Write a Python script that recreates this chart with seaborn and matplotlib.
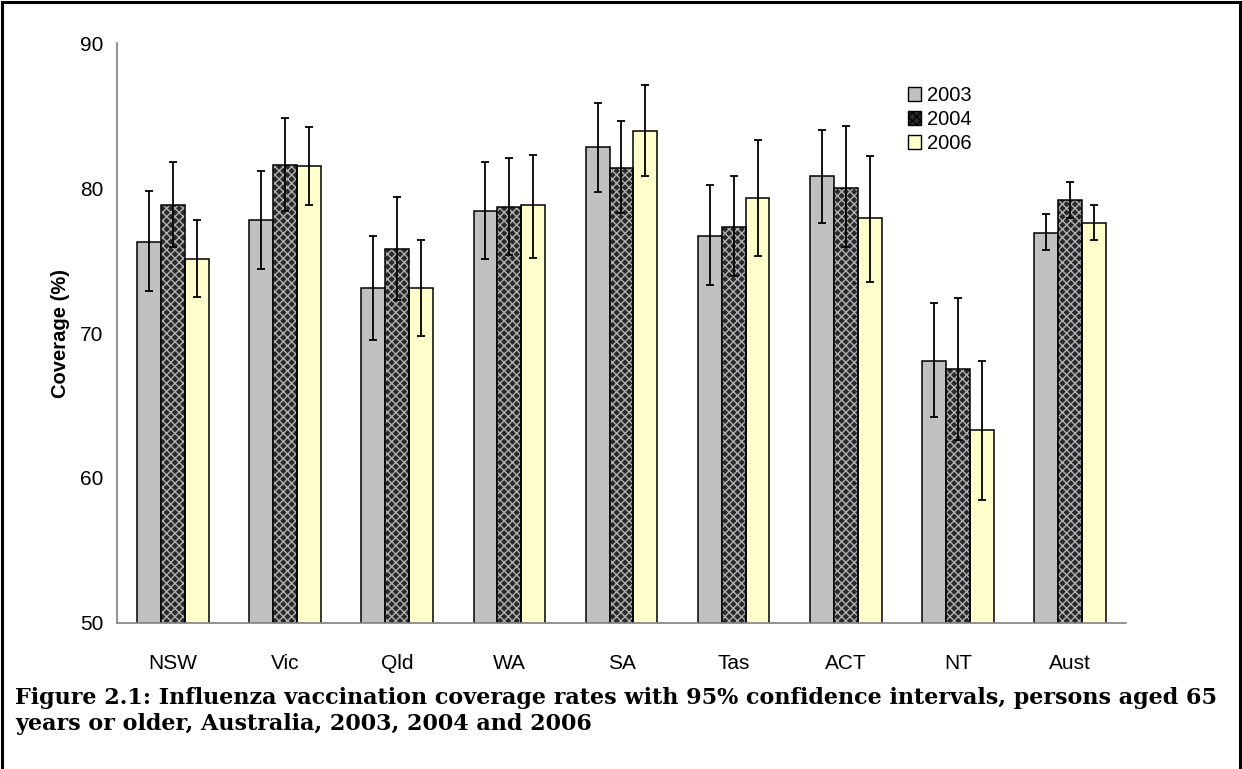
import numpy as np
import pandas as pd
import matplotlib
matplotlib.use("Agg")
import matplotlib.pyplot as plt
import matplotlib.patches as mpatches
from matplotlib.patches import Rectangle
import seaborn as sns

# datos
states = ['NSW', 'Vic', 'Qld', 'WA', 'SA', 'Tas', 'ACT', 'NT', 'Aust']
years = ['2003', '2004', '2006']

cov_2003 = [76.3, 77.8, 73.1, 78.4, 82.8, 76.7, 80.8, 68.1, 76.9]
low_2003 = [72.9, 74.4, 69.5, 75.1, 79.7, 73.3, 77.6, 64.2, 75.7]
high_2003 = [79.8, 81.2, 76.7, 81.8, 85.9, 80.2, 84.0, 72.1, 78.2]

cov_2004 = [78.8, 81.6, 75.8, 78.7, 81.4, 77.3, 80.0, 67.5, 79.2]
low_2004 = [75.9, 78.4, 72.3, 75.4, 78.3, 73.9, 75.9, 62.6, 77.9]
high_2004 = [81.8, 84.8, 79.4, 82.1, 84.6, 80.8, 84.3, 72.4, 80.4]

cov_2006 = [75.1, 81.5, 73.1, 78.8, 83.9, 79.3, 77.9, 63.3, 77.6]
low_2006 = [72.5, 78.8, 69.8, 75.2, 80.8, 75.3, 73.5, 58.5, 76.4]
high_2006 = [77.8, 84.2, 76.4, 82.3, 87.1, 83.3, 82.2, 68.1, 78.8]

cov = {'2003': cov_2003, '2004': cov_2004, '2006': cov_2006}
low = {'2003': low_2003, '2004': low_2004, '2006': low_2006}
high = {'2003': high_2003, '2004': high_2004, '2006': high_2006}

rows = []
for y in years:
    for i, s in enumerate(states):
        rows.append({'State': s, 'Year': y, 'Coverage': cov[y][i],
                     'Low': low[y][i], 'High': high[y][i]})
df = pd.DataFrame(rows)

colores = {'2003': '#C0C0C0', '2004': '#2a2a2a', '2006': '#FFFFCC'}

sns.set_style('white')
plt.rcParams['font.family'] = ['Liberation Sans', 'DejaVu Sans']
plt.rcParams['text.color'] = 'black'
plt.rcParams['axes.labelcolor'] = 'black'
plt.rcParams['xtick.color'] = 'black'
plt.rcParams['ytick.color'] = 'black'
plt.rcParams['hatch.linewidth'] = 1.0

fig = plt.figure(figsize=(12.42, 7.69), dpi=100)
ax = fig.add_axes([0.0942, 0.1899, 0.9066 - 0.0942, 0.944 - 0.1899])

sns.barplot(data=df, x='State', y='Coverage', hue='Year', order=states,
            hue_order=years, palette=colores, width=0.64, gap=0,
            errorbar=None, edgecolor='black', linewidth=1.1, saturation=1,
            legend=False, ax=ax)

# patron de la serie 2004 y barras de error
for k, y in enumerate(years):
    cont = ax.containers[k]
    sub = df[df['Year'] == y].set_index('State').loc[states]
    xs = []
    for p in cont.patches:
        xs.append(p.get_x() + p.get_width() / 2)
        if y == '2004':
            p.set_hatch('xxxx')
            p.set_edgecolor('#b0b0b0')
            p.set_linewidth(0)
            ax.add_patch(Rectangle((p.get_x(), p.get_y()), p.get_width(), p.get_height(),
                                   facecolor='none', edgecolor='black', linewidth=1.1, zorder=p.get_zorder() + 0.1))
    yv = sub['Coverage'].values
    err = np.vstack([yv - sub['Low'].values, sub['High'].values - yv])
    ax.errorbar(xs, yv, yerr=err, fmt='none', ecolor='black', elinewidth=1.3,
                capsize=3, capthick=1.3, zorder=5)

ax.set_ylim(50, 90)
ax.set_xlim(-0.5, len(states) - 0.5)
ax.set_yticks([50, 60, 70, 80, 90])
ax.set_xlabel('')
ax.set_ylabel('Coverage (%)', fontsize=14.5, fontweight='bold', labelpad=7)

ax.set_xticks(np.arange(len(states) + 1) - 0.5, minor=True)
ax.tick_params(axis='x', which='major', length=0, pad=22, labelsize=15)
ax.tick_params(axis='x', which='minor', length=6, width=1, color='#808080', direction='out')
ax.tick_params(axis='y', length=6, width=1, color='#808080', direction='out', labelsize=15, pad=4)

for side in ['top', 'right']:
    ax.spines[side].set_visible(False)
for side in ['left', 'bottom']:
    ax.spines[side].set_color('#808080')
    ax.spines[side].set_linewidth(1.2)

handles = [
    mpatches.Patch(facecolor=colores['2003'], edgecolor='black', label='2003'),
    mpatches.Patch(facecolor=colores['2004'], edgecolor='black', hatch='xxxx', label='2004'),
    mpatches.Patch(facecolor=colores['2006'], edgecolor='black', label='2006'),
]
ax.legend(handles=handles, loc='upper left', bbox_to_anchor=(0.776, 0.94), frameon=False,
          fontsize=14.5, handlelength=0.65, handleheight=0.65, handletextpad=0.3,
          labelspacing=0.25, borderaxespad=0)

# marco de la figura
fig.patches.append(Rectangle((0.002, -0.01), 0.996, 1.007, transform=fig.transFigure,
                             fill=False, edgecolor='black', linewidth=2.2))

cap_font = ['DejaVu Serif']
fig.text(0.012, 0.092, 'Figure 2.1: Influenza vaccination coverage rates with 95% confidence intervals, persons aged 65',
         fontsize=16, fontweight='bold', family=cap_font, va='center')
fig.text(0.012, 0.059, 'years or older, Australia, 2003, 2004 and 2006',
         fontsize=16, fontweight='bold', family=cap_font, va='center')

plt.savefig('out.png', dpi=100)
